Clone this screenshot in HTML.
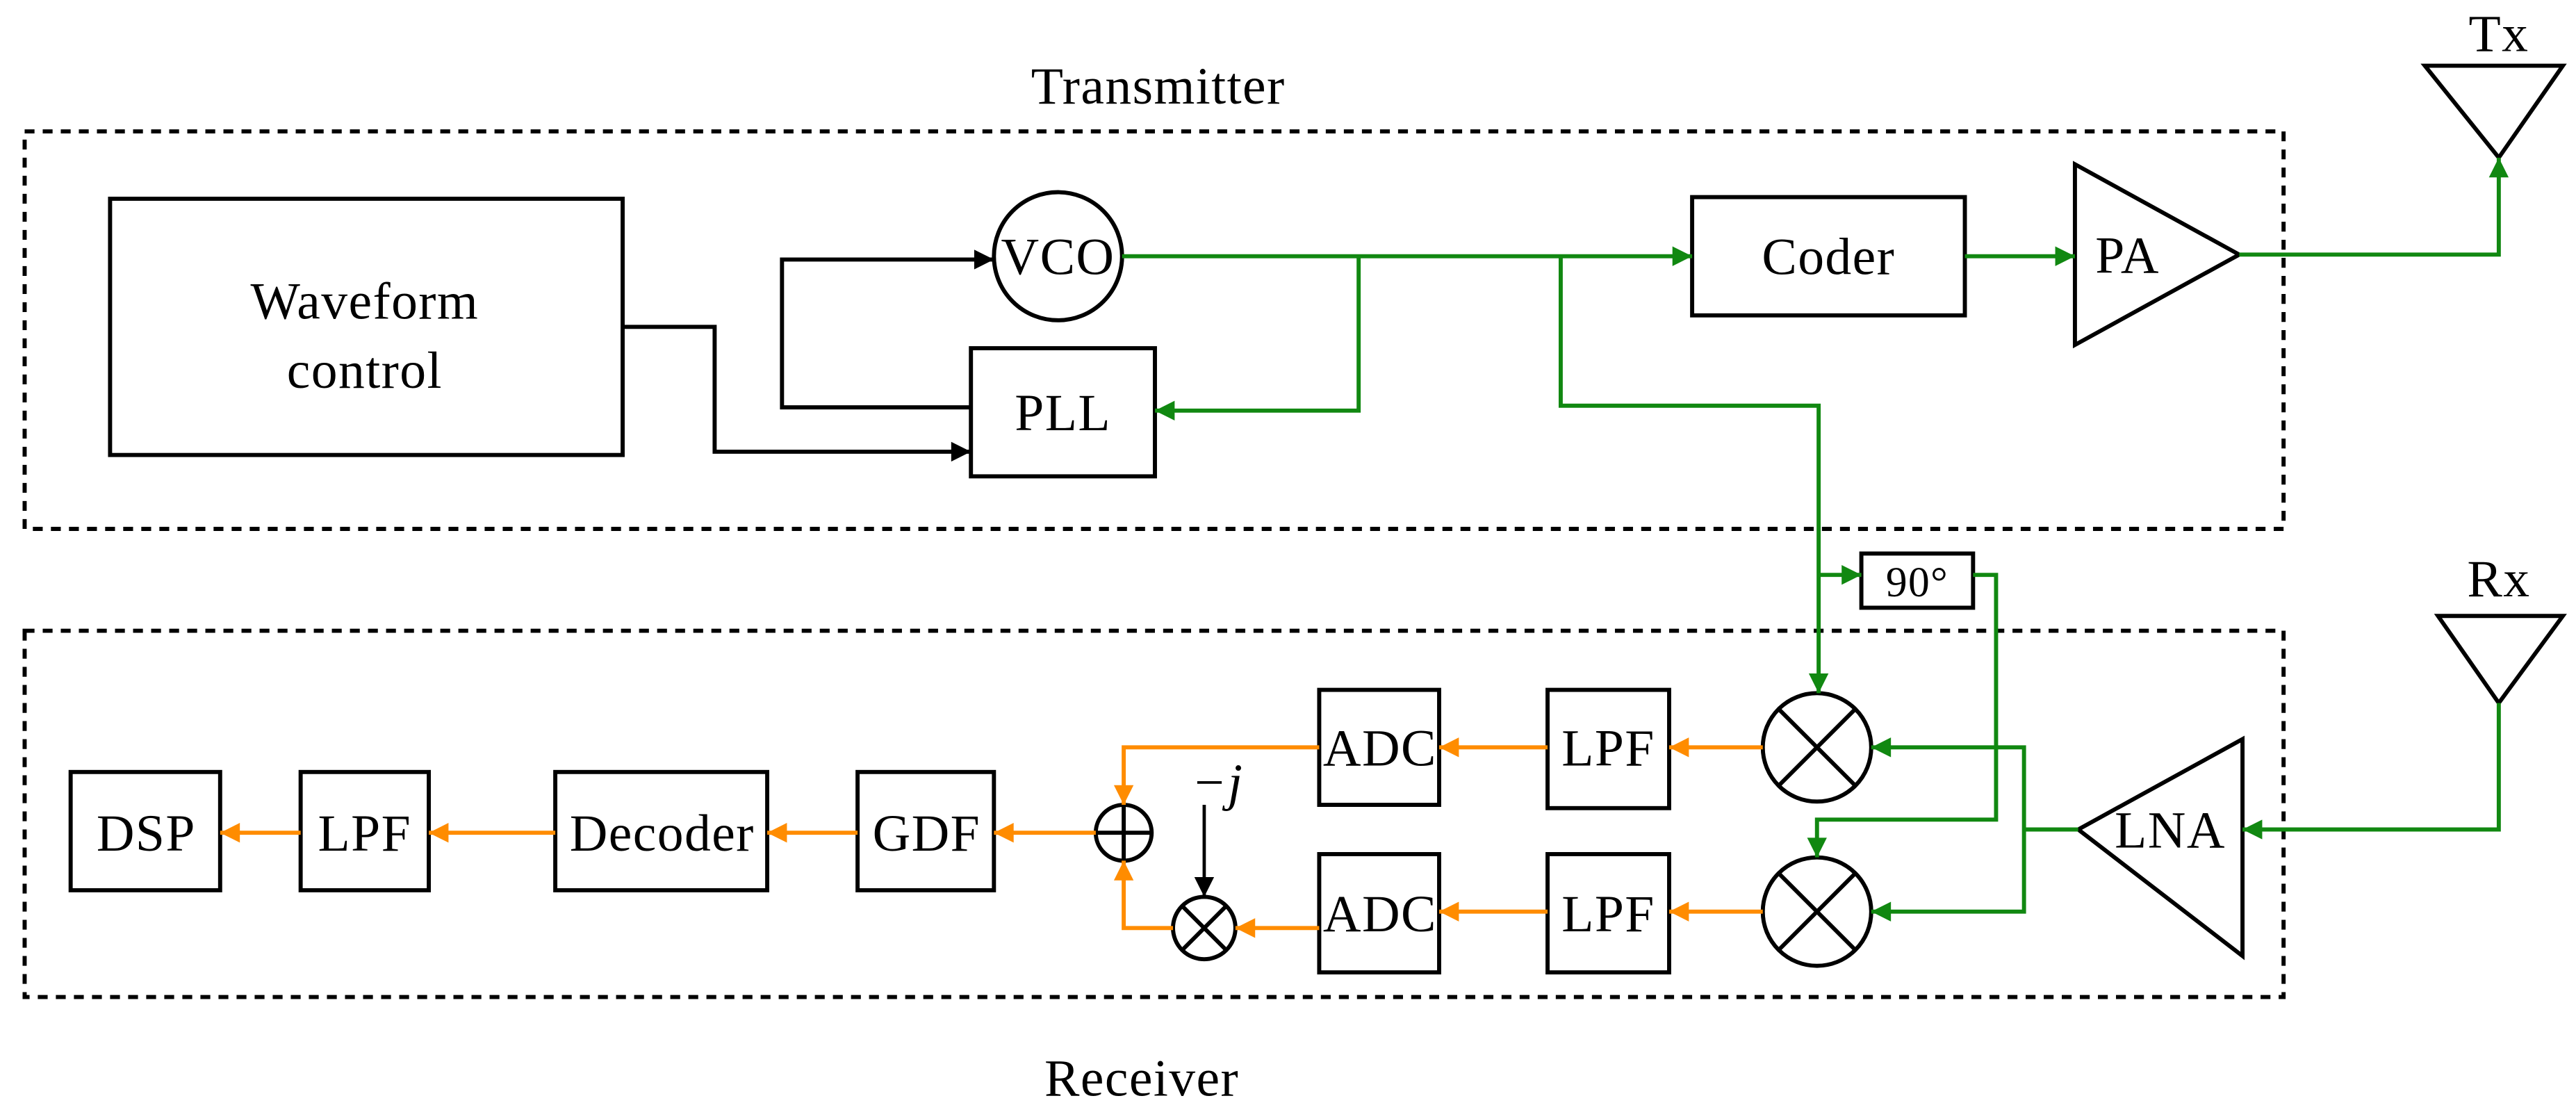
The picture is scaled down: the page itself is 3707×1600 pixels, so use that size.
<!DOCTYPE html>
<html><head><meta charset="utf-8"><style>html,body{margin:0;padding:0;background:#fff}svg{display:block}</style></head>
<body>
<svg width="3707" height="1600" viewBox="0 0 1568 677" preserveAspectRatio="none" xmlns="http://www.w3.org/2000/svg" font-family="Liberation Serif, serif">
<defs>
<marker id="ak" viewBox="0 0 10 10" refX="10" refY="5" markerWidth="14" markerHeight="12" markerUnits="userSpaceOnUse" orient="auto"><path d="M0,0L10,5L0,10z" fill="#000"/></marker>
<marker id="ag" viewBox="0 0 10 10" refX="10" refY="5" markerWidth="14" markerHeight="12" markerUnits="userSpaceOnUse" orient="auto"><path d="M0,0L10,5L0,10z" fill="#118811"/></marker>
<marker id="ao" viewBox="0 0 10 10" refX="10" refY="5" markerWidth="14" markerHeight="12" markerUnits="userSpaceOnUse" orient="auto"><path d="M0,0L10,5L0,10z" fill="#ff8c00"/></marker>
</defs>
<g fill="none" stroke="#000" stroke-width="2.5">
<rect x="15" y="80" width="1375" height="242" stroke-dasharray="6,5"/>
<rect x="15" y="384" width="1375" height="223" stroke-dasharray="6,5"/>
<rect x="67" y="121" width="312" height="156"/>
<circle cx="644" cy="156" r="39"/>
<rect x="591" y="212" width="112" height="78"/>
<rect x="1030" y="120" width="166" height="72"/>
<polygon points="1263,100 1263,210 1363,155"/>
<polygon points="1476,40 1560,40 1521,96"/>
<polygon points="1484,375 1560,375 1521,428"/>
<polygon points="1365,450 1365,582 1265,505"/>
<rect x="1133" y="337" width="68" height="33"/>
<circle cx="1106" cy="455" r="33"/><path d="M1083,432L1129,478M1129,432L1083,478"/>
<circle cx="1106" cy="555" r="33"/><path d="M1083,532L1129,578M1129,532L1083,578"/>
<circle cx="684" cy="507" r="17"/><path d="M667,507H701M684,490V524"/>
<circle cx="733" cy="565" r="19"/><path d="M720,552L746,578M746,552L720,578"/>
<rect x="942" y="420" width="74" height="72"/>
<rect x="942" y="520" width="74" height="72"/>
<rect x="803" y="420" width="73" height="70"/>
<rect x="803" y="520" width="73" height="72"/>
<rect x="522" y="470" width="83" height="72"/>
<rect x="338" y="470" width="129" height="72"/>
<rect x="183" y="470" width="78" height="72"/>
<rect x="43" y="470" width="91" height="72"/>
</g>
<g fill="none" stroke="#000" stroke-width="2.5">
<path d="M379,199H435V275H591" marker-end="url(#ak)"/>
<path d="M591,248H476V158H605" marker-end="url(#ak)"/>
<path d="M733,490V546" stroke-width="2" marker-end="url(#ak)"/>
</g>
<g fill="none" stroke="#118811" stroke-width="2.5">
<path d="M683,156H1030" marker-end="url(#ag)"/>
<path d="M827,156V250H703" marker-end="url(#ag)"/>
<path d="M950,156V247H1107V422" marker-end="url(#ag)"/>
<path d="M1107,350H1133" marker-end="url(#ag)"/>
<path d="M1196,156H1263" marker-end="url(#ag)"/>
<path d="M1363,155H1521V96" marker-end="url(#ag)"/>
<path d="M1201,350H1215V499H1106V522" marker-end="url(#ag)"/>
<path d="M1521,428V505H1365" marker-end="url(#ag)"/>
<path d="M1265,505H1232" />
<path d="M1232,505V455H1139" marker-end="url(#ag)"/>
<path d="M1232,505V555H1139" marker-end="url(#ag)"/>
</g>
<g fill="none" stroke="#ff8c00" stroke-width="2.5">
<path d="M1073,455H1016" marker-end="url(#ao)"/>
<path d="M1073,555H1016" marker-end="url(#ao)"/>
<path d="M942,455H876" marker-end="url(#ao)"/>
<path d="M942,555H876" marker-end="url(#ao)"/>
<path d="M803,455H684V490" marker-end="url(#ao)"/>
<path d="M803,565H752" marker-end="url(#ao)"/>
<path d="M714,565H684V524" marker-end="url(#ao)"/>
<path d="M667,507H605" marker-end="url(#ao)"/>
<path d="M522,507H467" marker-end="url(#ao)"/>
<path d="M338,507H261" marker-end="url(#ao)"/>
<path d="M183,507H134" marker-end="url(#ao)"/>
</g>
<g font-size="32" letter-spacing="0.6" text-anchor="middle" fill="#000">
<text x="705" y="63">Transmitter</text>
<text x="695" y="667">Receiver</text>
<text x="222" y="194">Waveform</text>
<text x="222" y="236">control</text>
<text x="644" y="167">VCO</text>
<text x="647" y="262">PLL</text>
<text x="1113" y="167">Coder</text>
<text x="1295" y="166">PA</text>
<text x="1521" y="31">Tx</text>
<text x="1521" y="363">Rx</text>
<text x="1321" y="516">LNA</text>
<text x="1167" y="363" font-size="26">90°</text>
<text x="840" y="466">ADC</text>
<text x="840" y="567">ADC</text>
<text x="979" y="466">LPF</text>
<text x="979" y="567">LPF</text>
<text x="564" y="518">GDF</text>
<text x="403" y="518">Decoder</text>
<text x="222" y="518">LPF</text>
<text x="89" y="518">DSP</text>
<text x="741" y="487" font-style="italic">−j</text>
</g>
</svg>
</body></html>
